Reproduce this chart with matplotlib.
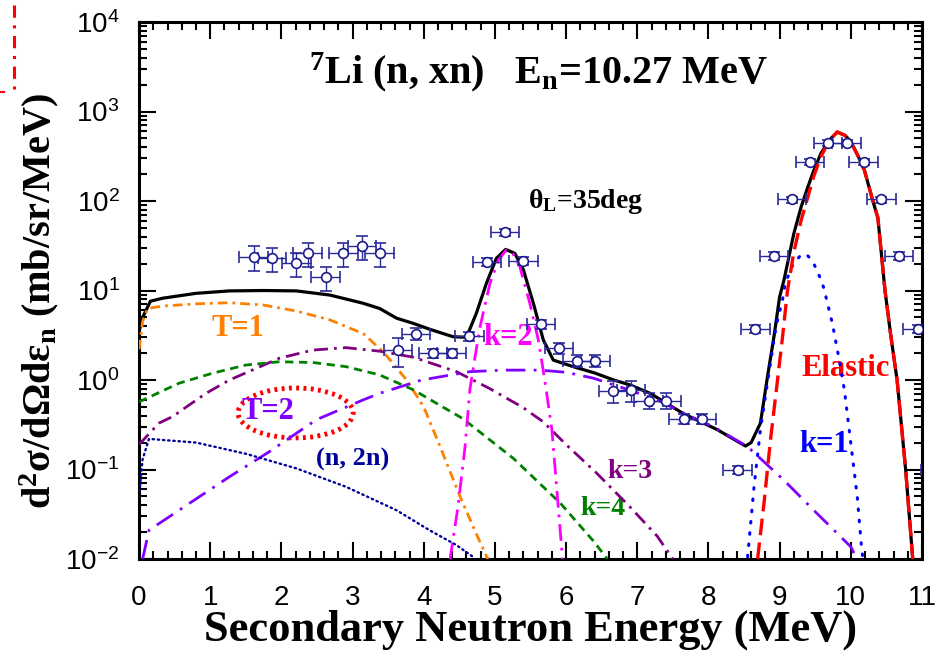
import matplotlib
matplotlib.use("Agg")
import matplotlib.pyplot as plt
from matplotlib import font_manager
from matplotlib.lines import Line2D
from matplotlib.patches import Ellipse
from matplotlib.ticker import LogLocator, MultipleLocator, NullFormatter

plt.rcParams['font.family'] = ['Liberation Serif', 'DejaVu Serif']
plt.rcParams['font.weight'] = 'bold'
plt.rcParams['axes.labelweight'] = 'bold'
plt.rcParams['mathtext.fontset'] = 'custom'
plt.rcParams['mathtext.rm'] = 'Liberation Serif:bold'
plt.rcParams['mathtext.it'] = 'Liberation Serif:bold'
plt.rcParams['mathtext.bf'] = 'Liberation Serif:bold'

# narrow sans for the tick numbers when available
installed = {f.name for f in font_manager.fontManager.ttflist}
if 'Liberation Sans Narrow' in installed:
    tick_family, tick_size = 'Liberation Sans Narrow', 23
else:
    tick_family, tick_size = 'Liberation Sans', 20

# measured spectrum at 35 deg
exp_e = [1.61, 1.87, 2.21, 2.37, 2.62, 2.87, 3.13, 3.38, 3.64, 3.89, 4.13, 4.39,
         4.64, 4.89, 5.14, 5.40, 5.65, 5.90, 6.16, 6.41, 6.66, 6.91, 7.16, 7.41,
         7.65, 7.91, 8.41, 8.66, 8.92, 9.17, 9.43, 9.68, 9.94, 10.18, 10.43,
         10.68, 10.94, 11.19]
exp_xs = [23.9, 22.9, 20.1, 26.1, 14.0, 26.4, 31.6, 26.4, 2.16, 3.3, 1.99, 1.99,
          3.1, 21.0, 44.7, 21.3, 4.2, 2.28, 1.64, 1.64, 0.76, 0.77, 0.59, 0.59,
          0.37, 0.37, 0.10, 3.7, 24.3, 104, 275, 442, 442, 275, 104,
          24.3, 3.7, 0.10]
exp_rel_err = [0.3, 0.3, 0.3, 0.3, 0.3, 0.3, 0.3, 0.3, 0.35, 0.15, 0.12, 0.12,
               0.12, 0.1, 0.1, 0.1, 0.12, 0.15, 0.15, 0.15, 0.27, 0.27, 0.2, 0.2,
               0.12, 0.12, 0.1, 0.1, 0.1, 0.08, 0.08, 0.08, 0.08, 0.08, 0.08,
               0.1, 0.1, 0.1]
exp_de = 0.2

# calculated components
total_e = [0.0, 0.05, 0.16, 0.33, 0.8, 1.27, 1.75, 2.21, 2.68, 3.15, 3.38, 3.62,
           3.85, 4.08, 4.41, 4.60, 4.74, 4.88, 5.02, 5.15, 5.28, 5.40, 5.54,
           5.68, 5.82, 6.10, 6.40, 6.67, 6.90, 7.18, 7.65, 8.12, 8.52, 8.60,
           8.73, 8.83, 8.92, 9.0, 9.06, 9.20, 9.30, 9.39, 9.48, 9.58, 9.70,
           9.81, 9.92, 10.0, 10.10, 10.19, 10.31, 10.38, 10.48, 10.56, 10.65,
           10.77, 10.87]
total_xs = [3.5, 5.0, 7.6, 8.2, 9.3, 9.9, 10.0, 9.9, 8.9, 7.2, 6.3, 4.9,
            4.3, 3.7, 3.05, 3.0, 5.6, 12.0, 22.9, 28.8, 26.0, 17.0, 7.2,
            2.8, 1.67, 1.41, 1.2, 1.0, 0.88, 0.71, 0.42, 0.28, 0.183, 0.2,
            0.33, 1.1, 3.05, 8.5, 13.0, 43.5, 85, 139, 220, 341, 480,
            590, 540, 460, 320, 222, 100, 65, 10.0, 3.2, 1.0,
            0.1, 0.01]

elastic_e = [8.69, 8.78, 8.87, 8.97, 9.04, 9.11, 9.20, 9.30, 9.38, 9.48, 9.58,
             9.70, 9.81, 9.92, 10.0, 10.10, 10.19, 10.31, 10.38, 10.48, 10.56,
             10.65, 10.77, 10.87]
elastic_xs = [0.01, 0.042, 0.21, 1.0, 3.0, 10.0, 27.0, 60.0, 100, 190, 313,
              480, 590, 540, 460, 320, 222, 100, 65, 10.0, 3.2,
              1.0, 0.1, 0.01]

k1_e = [8.55, 8.64, 8.73, 8.85, 8.95, 9.04, 9.08, 9.18, 9.28, 9.37, 9.45, 9.53,
        9.62, 9.74, 9.83, 9.91, 10.0, 10.09, 10.15, 10.17]
k1_xs = [0.0106, 0.064, 0.28, 1.2, 4.0, 7.8, 12.2, 18.9, 24.0, 25.6, 22.0, 16.6,
         10.7, 4.3, 1.8, 0.77, 0.196, 0.05, 0.0137, 0.01]

k2_e = [4.37, 4.48, 4.58, 4.65, 4.72, 4.79, 4.93, 5.05, 5.16, 5.25, 5.35, 5.49,
        5.61, 5.70, 5.80, 5.89, 5.95]
k2_xs = [0.01, 0.038, 0.18, 0.8, 1.8, 3.9, 12.0, 22.0, 28.4, 26.0, 18.5, 7.2,
         2.8, 1.0, 0.28, 0.038, 0.01]

k3_e = [0.0, 0.28, 0.47, 0.94, 1.27, 1.97, 2.44, 2.91, 3.38, 3.85, 4.46, 4.93,
        5.40, 5.68, 6.0, 6.43, 6.9, 7.28, 7.5]
k3_xs = [0.19, 0.33, 0.39, 0.71, 1.0, 1.75, 2.16, 2.3, 2.1, 1.8, 1.24, 0.8,
         0.49, 0.34, 0.19, 0.091, 0.038, 0.018, 0.01]

k4_e = [0.0, 0.56, 1.03, 1.50, 1.97, 2.44, 2.91, 3.38, 3.85, 4.55, 5.26, 5.92,
        6.38, 6.58]
k4_xs = [0.57, 0.92, 1.19, 1.47, 1.6, 1.57, 1.41, 1.14, 0.78, 0.37, 0.133, 0.042,
         0.016, 0.01]

t1_e = [0.0, 0.05, 0.12, 0.33, 0.8, 1.27, 1.74, 2.21, 2.68, 3.15, 3.43, 3.76,
        4.0, 4.23, 4.51, 4.74, 4.90]
t1_xs = [2.2, 4.5, 6.3, 6.7, 7.1, 7.3, 6.9, 5.9, 4.7, 3.3, 2.07, 1.0,
         0.5, 0.18, 0.05, 0.019, 0.01]

t2_e = [0.05, 0.14, 0.56, 1.27, 1.83, 2.49, 3.15, 3.38, 3.97, 4.65, 5.12, 5.63,
        6.0, 6.38, 6.81, 7.28, 7.75, 8.07, 8.55, 9.06, 9.53, 10.0, 10.07]
t2_xs = [0.01, 0.021, 0.035, 0.083, 0.158, 0.36, 0.60, 0.71, 1.0, 1.24, 1.29, 1.29,
         1.22, 1.05, 0.81, 0.60, 0.39, 0.30, 0.18, 0.076, 0.032, 0.0137, 0.0106]

n2n_e = [0.0, 0.05, 0.14, 0.80, 1.50, 2.21, 2.91, 3.62, 4.08, 4.46, 4.69]
n2n_xs = [0.05, 0.13, 0.22, 0.20, 0.15, 0.103, 0.064, 0.035, 0.021, 0.0143, 0.0106]

fig = plt.figure(figsize=(9.35, 6.59), dpi=100)
ax = fig.add_axes([0.1487, 0.1517, 0.8374, 0.8149])

ax.plot(total_e, total_xs, color='black', lw=2.3, zorder=3)
ax.plot(t1_e, t1_xs, color='#ff8000', lw=2, dashes=(3.5, 1.8, 1, 1.8), zorder=4)
ax.plot(k3_e, k3_xs, color='#800080', lw=2, dashes=(5, 2.2, 1, 2.2), zorder=4)
ax.plot(k4_e, k4_xs, color='#008000', lw=2, dashes=(3, 2), zorder=4)
ax.plot(t2_e, t2_xs, color='#8000ff', lw=2, dashes=(7, 3, 1, 3), zorder=4)
ax.plot(k2_e, k2_xs, color='#ff00ff', lw=2, dashes=(6, 2.5, 1, 2.5), zorder=4)
ax.plot(n2n_e, n2n_xs, color='#000099', lw=1.7, dashes=(0.6, 1.6),
        dash_capstyle='round', zorder=4)
ax.plot(k1_e, k1_xs, color='#0000ff', lw=2.2, dashes=(0.5, 3.2),
        dash_capstyle='round', zorder=4)
ax.plot(elastic_e, elastic_xs, color='#ff0000', lw=2.4, dashes=(5, 2.2), zorder=5)

yerr = [v * r for v, r in zip(exp_xs, exp_rel_err)]
ax.errorbar(exp_e, exp_xs, xerr=exp_de, yerr=yerr, fmt='o', ms=7,
            mfc='white', mec='#1a1a8c', mew=1.2, ecolor='#2a2a9a',
            elinewidth=1.0, capsize=4, capthick=1.0, zorder=6)

ax.set_yscale('log')
ax.set_xlim(0, 11)
ax.set_ylim(1e-2, 1e4)
ax.xaxis.set_major_locator(MultipleLocator(1))
ax.xaxis.set_minor_locator(MultipleLocator(0.2))
ax.yaxis.set_major_locator(LogLocator(base=10, numticks=10))
ax.yaxis.set_minor_locator(LogLocator(base=10, subs=range(2, 10), numticks=20))
ax.yaxis.set_minor_formatter(NullFormatter())

ax.tick_params(which='both', direction='in', top=True, right=True, width=1.5)
ax.tick_params(which='major', length=12)
ax.tick_params(which='minor', length=6)
ax.tick_params(axis='x', which='major', pad=19)
ax.tick_params(axis='y', which='major', pad=14)
for lab in ax.get_xticklabels() + ax.get_yticklabels():
    lab.set_fontfamily([tick_family, 'Liberation Sans'])
    lab.set_fontweight('normal')
    lab.set_fontsize(tick_size)
for sp in ax.spines.values():
    sp.set_linewidth(2.2)

ax.set_xlabel('Secondary Neutron Energy (MeV)', fontsize=32)
ax.xaxis.set_label_coords(0.5, -0.094)
ax.set_ylabel('d$^{\\mathbf{2}}$σ/dΩdε$_{n}$ (mb/sr/MeV)', fontsize=29)
ax.yaxis.set_label_coords(-0.1, 0.48)

ax.text(0.51, 0.907, '$^{\\mathbf{7}}$Li (n, xn)   E$_{n}$=10.27 MeV',
        transform=ax.transAxes, ha='center', va='center', fontsize=29)
ax.text(0.57, 0.665, 'θ$_{L}$=35deg', transform=ax.transAxes,
        ha='center', va='center', fontsize=20)

ax.text(1.39, 3.8, 'T=1', color='#ff8000', fontsize=22, ha='center', va='center')
ax.text(1.81, 0.44, 'T=2', color='#8000ff', fontsize=22, ha='center', va='center')
ax.add_patch(Ellipse((0.200, 0.272), 0.147, 0.093, transform=ax.transAxes,
                     fill=False, ec='#ff0000', lw=3.5, ls=(0, (0.6, 0.9))))
ax.text(3.0, 0.128, '(n, 2n)', color='#000099', fontsize=19, ha='center', va='center')
ax.text(5.18, 3.0, 'k=2', color='#ff00ff', fontsize=22, ha='center', va='center')
ax.text(6.9, 0.096, 'k=3', color='#800080', fontsize=20, ha='center', va='center')
ax.text(6.52, 0.037, 'k=4', color='#008000', fontsize=20, ha='center', va='center')
ax.text(9.62, 0.19, 'k=1', color='#0000ff', fontsize=22, ha='center', va='center')
ax.text(9.93, 1.33, 'Elastic', color='#ff0000', fontsize=22, ha='center', va='center')

# stray trace in the upper-left margin
fig.add_artist(Line2D([0.015, 0.015], [0.993, 0.860], transform=fig.transFigure,
                      color='#ff0000', lw=2.2, dashes=(4, 2.5, 1, 2.5)))
fig.add_artist(Line2D([0.0, 0.004], [0.860, 0.860], transform=fig.transFigure,
                      color='#ff0000', lw=1.5))

fig.savefig('out.png', dpi=100)
